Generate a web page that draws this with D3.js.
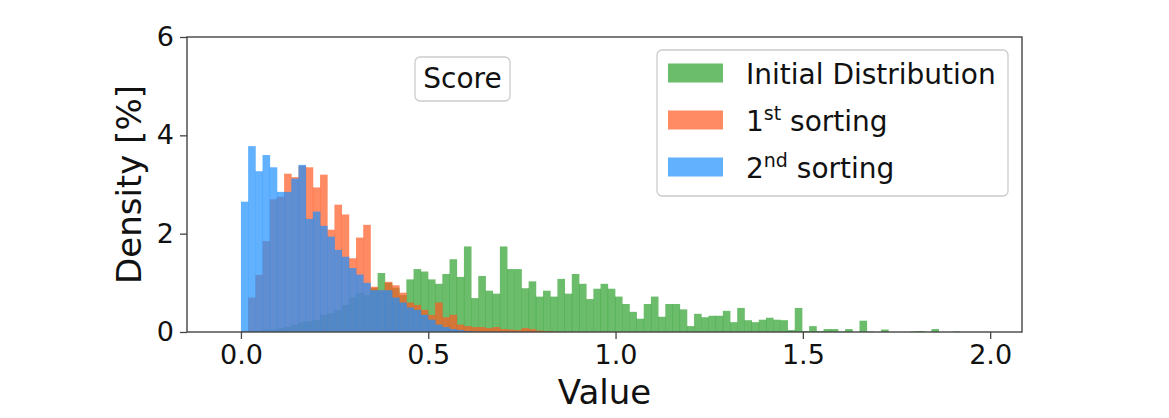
<!DOCTYPE html>
<html>
<head>
<meta charset="utf-8">
<script src="https://cdn.jsdelivr.net/npm/d3@7"></script>
<style>
  body { margin: 0; background: #fff; }
  svg { font-family: "DejaVu Sans", sans-serif; }
</style>
</head>
<body>
<div id="chart"></div>
<script>
// histogram bins share the same edges, starting at 0
const binWidth = 0.0192;

const initialDistribution = [
  0, 0.02, 0.03, 0.05, 0.05, 0.08, 0.1, 0.15, 0.2, 0.22,
  0.25, 0.35, 0.38, 0.45, 0.55, 0.7, 0.8, 0.75, 0.9, 1.2,
  1.0, 0.9, 0.75, 1.07, 1.28, 1.23, 1.07, 0.98, 1.18, 1.48,
  1.12, 1.74, 0.69, 1.14, 0.84, 0.78, 1.74, 1.28, 1.28, 0.89,
  1.03, 0.72, 0.84, 0.72, 1.08, 0.78, 1.18, 0.98, 0.67, 0.88,
  0.98, 0.88, 0.72, 0.57, 0.41, 0.27, 0.57, 0.72, 0.31, 0.57,
  0.57, 0.46, 0.12, 0.37, 0.3, 0.33, 0.33, 0.43, 0.2, 0.49,
  0.24, 0.2, 0.25, 0.29, 0.25, 0.24, 0.04, 0.49, 0.02, 0.12,
  0.02, 0.06, 0.06, 0.01, 0.06, 0, 0.23, 0.01, 0, 0.05,
  0, 0, 0, 0.01, 0.02, 0, 0.06, 0, 0, 0.01
];

const firstSorting = [
  0.02, 0.7, 1.16, 1.85, 2.7, 2.75, 3.22, 3.15, 3.38, 3.35,
  2.94, 3.2, 2.08, 2.59, 2.39, 1.5, 1.92, 2.18, 0.92, 0.85,
  1.02, 0.95, 0.8, 0.6, 0.55, 0.45, 0.35, 0.6, 0.3, 0.35,
  0.15, 0.12, 0.1, 0.1, 0.08, 0.1, 0.06, 0.05, 0.04, 0.08,
  0.06, 0.03, 0.02, 0.01
];

const secondSorting = [
  2.65, 3.78, 3.27, 3.6, 3.35, 2.85, 2.85, 3.12, 3.4, 2.3,
  2.45, 2.16, 1.94, 1.67, 1.53, 1.3, 1.17, 1.0, 0.85, 0.85,
  0.85, 0.7, 0.6, 0.5, 0.45, 0.35, 0.25, 0.15, 0.1, 0.06,
  0.04, 0.02, 0.01
];

const seriesNames = ["Initial Distribution", "1st sorting", "2nd sorting"];
const xTicks = [0, 0.5, 1.0, 1.5, 2.0];
const yTicks = [0, 2, 4, 6];

const width = 1169, height = 418;
const margin = { top: 37, right: 147, bottom: 86, left: 187 };

const svg = d3.select("#chart").append("svg")
  .attr("width", width)
  .attr("height", height);

const x = d3.scaleLinear()
  .domain([-0.144, 2.085])
  .range([margin.left, width - margin.right]);

const y = d3.scaleLinear()
  .domain([0, 6])
  .range([height - margin.bottom, margin.top]);

const series = [
  { name: seriesNames[0], values: initialDistribution, color: "#2ca02c" },
  { name: seriesNames[1], values: firstSorting, color: "#ff5a24" },
  { name: seriesNames[2], values: secondSorting, color: "#1e90ff" }
];

const plot = svg.append("g");

series.forEach(s => {
  plot.append("g")
    .selectAll("rect")
    .data(s.values.map((v, i) => ({ x0: i * binWidth, x1: (i + 1) * binWidth, v: v })))
    .enter().append("rect")
    .attr("x", d => x(d.x0))
    .attr("width", d => x(d.x1) - x(d.x0) + 0.4)
    .attr("y", d => y(d.v))
    .attr("height", d => y(0) - y(d.v))
    .attr("fill", s.color)
    .attr("fill-opacity", 0.7);
});

// axes
const xAxis = svg.append("g")
  .attr("transform", `translate(0,${y(0)})`)
  .call(d3.axisBottom(x).tickValues(xTicks).tickFormat(d3.format(".1f")).tickSizeOuter(0).tickSize(7).tickPadding(6));

const yAxis = svg.append("g")
  .attr("transform", `translate(${x.range()[0]},0)`)
  .call(d3.axisLeft(y).tickValues(yTicks).tickFormat(d3.format("d")).tickSizeOuter(0).tickSize(7).tickPadding(6));

[xAxis, yAxis].forEach(a => {
  a.select(".domain").remove();
  a.selectAll(".tick line").attr("stroke", "#444").attr("stroke-width", 1.3);
  a.selectAll(".tick text").attr("font-size", 27).attr("fill", "#111")
    .attr("font-family", "DejaVu Sans");
});

// frame
svg.append("rect")
  .attr("x", x.range()[0])
  .attr("y", y.range()[1])
  .attr("width", x.range()[1] - x.range()[0])
  .attr("height", y.range()[0] - y.range()[1])
  .attr("fill", "none")
  .attr("stroke", "#444")
  .attr("stroke-width", 1.4);

svg.append("text")
  .attr("x", (x.range()[0] + x.range()[1]) / 2)
  .attr("y", 404)
  .attr("text-anchor", "middle")
  .attr("font-size", 34)
  .attr("fill", "#111")
  .text("Value");

svg.append("text")
  .attr("transform", `translate(141,${(y.range()[0] + y.range()[1]) / 2}) rotate(-90)`)
  .attr("text-anchor", "middle")
  .attr("font-size", 34)
  .attr("fill", "#111")
  .text("Density [%]");

// "Score" box
svg.append("rect")
  .attr("x", 415).attr("y", 57)
  .attr("width", 95).attr("height", 44)
  .attr("rx", 5)
  .attr("fill", "#fff")
  .attr("stroke", "#ccc")
  .attr("stroke-width", 1.3);

svg.append("text")
  .attr("x", 462.5).attr("y", 88)
  .attr("text-anchor", "middle")
  .attr("font-size", 28)
  .attr("fill", "#111")
  .text("Score");

// legend
const legend = svg.append("g");
legend.append("rect")
  .attr("x", 657).attr("y", 50)
  .attr("width", 351).attr("height", 146)
  .attr("rx", 5)
  .attr("fill", "#fff")
  .attr("fill-opacity", 0.8)
  .attr("stroke", "#ccc")
  .attr("stroke-width", 1.3);

const legendRows = [
  { color: series[0].color, main: "Initial Distribution", sup: "", rest: "" },
  { color: series[1].color, main: "1", sup: "st", rest: " sorting" },
  { color: series[2].color, main: "2", sup: "nd", rest: " sorting" }
];

legendRows.forEach((r, i) => {
  const cy = 73 + i * 47;
  legend.append("rect")
    .attr("x", 668).attr("y", cy - 9.5)
    .attr("width", 55).attr("height", 19)
    .attr("fill", r.color)
    .attr("fill-opacity", 0.7);
  const t = legend.append("text")
    .attr("x", 746).attr("y", cy + 11)
    .attr("font-size", 28)
    .attr("fill", "#111");
  t.append("tspan").text(r.main);
  if (r.sup) {
    t.append("tspan").attr("dy", -11).attr("font-size", 19).text(r.sup);
    t.append("tspan").attr("dy", 11).text(r.rest);
  }
});
</script>
</body>
</html>
